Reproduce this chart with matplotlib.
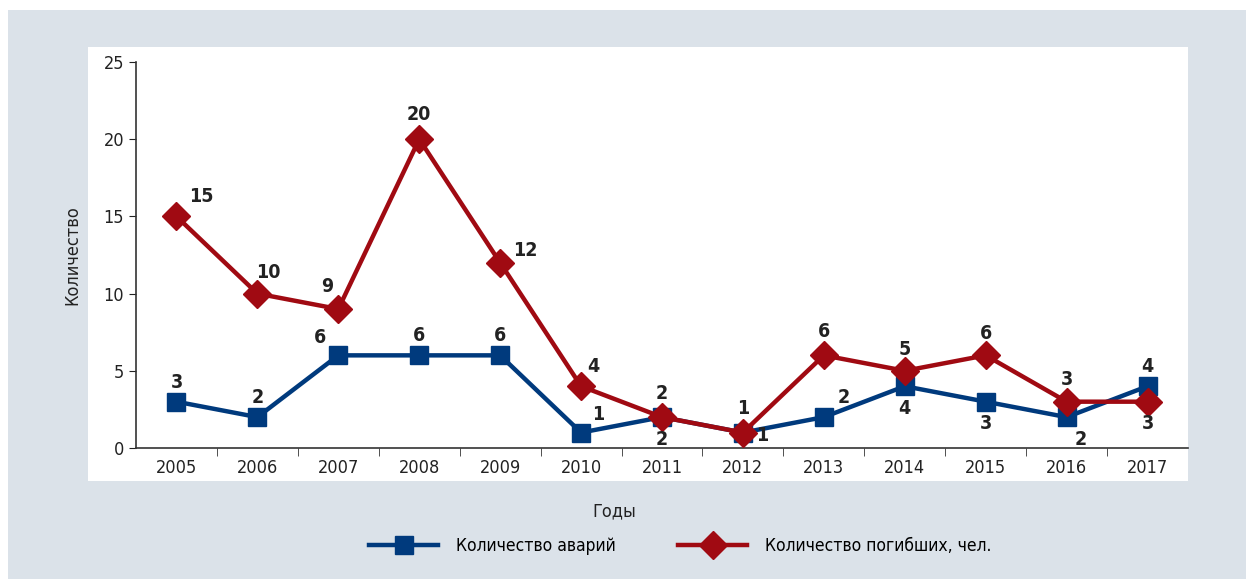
import matplotlib.pyplot as plt
from matplotlib.patches import Rectangle
from matplotlib.lines import Line2D

plt.rcParams['font.family'] = ['DejaVu Sans']
plt.rcParams['font.stretch'] = 'condensed'

years = ['2005', '2006', '2007', '2008', '2009', '2010', '2011',
         '2012', '2013', '2014', '2015', '2016', '2017']
avarii = [3, 2, 6, 6, 6, 1, 2, 1, 2, 4, 3, 2, 4]
pogibshih = [15, 10, 9, 20, 12, 4, 2, 1, 6, 5, 6, 3, 3]

# сдвиги подписей в пунктах (dx, dy)
off_blue = [(0, 14), (0, 14), (-13, 13), (0, 14), (0, 14), (12, 13), (0, -16),
            (14, -2), (14, 14), (0, -16), (0, -16), (10, -16), (0, 14)]
off_red = [(18, 14), (8, 15), (-8, 16), (0, 18), (18, 9), (9, 14), (0, 17),
           (0, 17), (0, 17), (0, 15), (0, 16), (0, 16), (0, -16)]

blue = '#003a7d'
red = '#a00a12'
W, H = 1246, 579

fig = plt.figure(figsize=(W / 100, H / 100), dpi=100)
fig.patch.set_facecolor('white')
fig.patches.append(Rectangle((8 / W, 0), 1, 1 - 10 / H, transform=fig.transFigure,
                             facecolor='#dbe2e9', edgecolor='none', zorder=-2))
fig.patches.append(Rectangle((88 / W, 1 - 481 / H), (1188 - 88) / W, (481 - 47) / H,
                             transform=fig.transFigure, facecolor='white',
                             edgecolor='none', zorder=-1))

ax = fig.add_axes([136 / W, 1 - 448 / H, (1188 - 136) / W, (448 - 62) / H])
ax.set_facecolor('none')

x = list(range(len(years)))
ax.plot(x, avarii, color=blue, lw=3.2, marker='s', ms=13, zorder=3)
ax.plot(x, pogibshih, color=red, lw=3.2, marker='D', ms=14, zorder=4)

for i in x:
    ax.annotate(str(avarii[i]), (i, avarii[i]), xytext=off_blue[i],
                textcoords='offset points', ha='center', va='center',
                fontsize=14, fontweight='bold', color='#222222', zorder=5)
    ax.annotate(str(pogibshih[i]), (i, pogibshih[i]), xytext=off_red[i],
                textcoords='offset points', ha='center', va='center',
                fontsize=14, fontweight='bold', color='#222222', zorder=5)

ax.set_xlim(-0.5, len(years) - 0.5)
ax.set_ylim(0, 25)
ax.set_yticks([0, 5, 10, 15, 20, 25])
ax.set_xticks(x)
ax.set_xticklabels(years)
ax.set_xticks([i + 0.5 for i in x[:-1]], minor=True)
ax.tick_params(axis='x', which='major', length=0, labelsize=13, pad=8, colors='#222222')
ax.tick_params(axis='x', which='minor', length=6, direction='out', color='#333333')
ax.tick_params(axis='y', length=5, labelsize=13, colors='#222222')
for s in ['top', 'right']:
    ax.spines[s].set_visible(False)
for s in ['left', 'bottom']:
    ax.spines[s].set_color('#333333')
    ax.spines[s].set_linewidth(1.2)

fig.text(72 / W, 1 - 255 / H, 'Количество', rotation=90, ha='center', va='center',
         fontsize=13, color='#222222')
fig.text(614 / W, 1 - 511 / H, 'Годы', ha='center', va='center',
         fontsize=13, color='#222222')

handles = [Line2D([], [], color=blue, lw=3.2, marker='s', ms=13),
           Line2D([], [], color=red, lw=3.2, marker='D', ms=14)]
fig.legend(handles, ['Количество аварий', 'Количество погибших, чел.'],
           loc='center', bbox_to_anchor=(680 / W, 1 - 546 / H), ncol=2,
           frameon=False, fontsize=12.5, handlelength=4.0, columnspacing=3.6,
           handletextpad=1.0)

fig.savefig('out.png', dpi=100)
